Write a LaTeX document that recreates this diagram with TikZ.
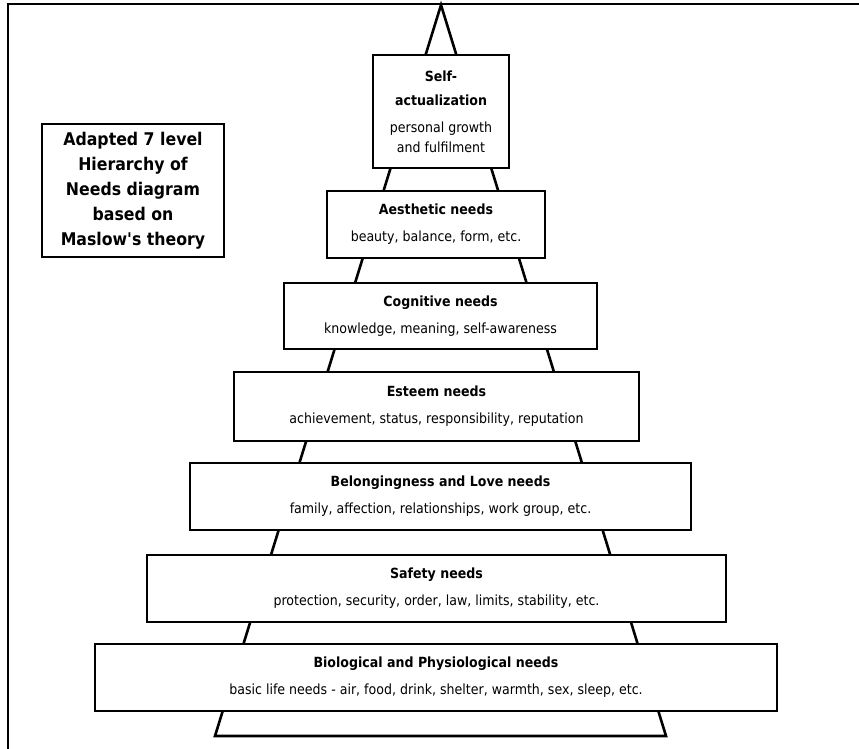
\documentclass[tikz,border=0pt]{standalone}
\usepackage{fontspec}
% a slightly condensed sans for all labels; no TeX quote mapping, so ' stays straight
\newfontfamily\labelfont{DejaVu Sans}[FakeStretch=0.9]
\begin{document}
\begin{tikzpicture}[x=1pt,y=-1pt,
  frameline/.style={draw=black, line width=2pt},
  pyramid/.style={draw=black, line width=2.6pt, line join=miter},
  levelbox/.style={draw=black, fill=white, line width=2.6pt, align=center,
    inner sep=0pt, font=\labelfont\fontsize{14}{20}\selectfont},
  titlebox/.style={draw=black, fill=white, line width=2.6pt, align=center,
    inner sep=0pt, font=\labelfont\fontsize{17.5}{25}\selectfont\bfseries}
]
\useasboundingbox (0,0) rectangle (859,749);

% page frame (top and left rules)
\coordinate (fbl) at (8,749);
\coordinate (ftl) at (8,4);
\coordinate (ftr) at (859,4);
\draw[frameline] (fbl) -- (ftl) -- (ftr);

% pyramid outline behind the levels
\coordinate (apex) at (441,5);
\coordinate (baseL) at (215,736);
\coordinate (baseR) at (666,736);
\draw[pyramid] (apex) -- (baseL) -- (baseR) -- cycle;

% the seven levels, top to bottom
\node[levelbox, minimum width=136pt, minimum height=113pt] (selfact) at (441,111.5)
  {\bfseries Self-\\[4pt]\bfseries actualization\\[7pt]personal growth\\and fulfilment};
\node[levelbox, minimum width=218pt, minimum height=67pt] (aesthetic) at (436,224.5)
  {\bfseries Aesthetic needs\\[7pt]beauty, balance, form, etc.};
\node[levelbox, minimum width=313pt, minimum height=66pt] (cognitive) at (440.5,316)
  {\bfseries Cognitive needs\\[7pt]knowledge, meaning, self-awareness};
\node[levelbox, minimum width=405pt, minimum height=69pt] (esteem) at (436.5,406.5)
  {\bfseries Esteem needs\\[7pt]achievement, status, responsibility, reputation};
\node[levelbox, minimum width=501pt, minimum height=67pt] (belonging) at (440.5,496.5)
  {\bfseries Belongingness and Love needs\\[7pt]family, affection, relationships, work group, etc.};
\node[levelbox, minimum width=579pt, minimum height=67pt] (safety) at (436.5,588.5)
  {\bfseries Safety needs\\[7pt]protection, security, order, law, limits, stability, etc.};
\node[levelbox, minimum width=682pt, minimum height=67pt] (bio) at (436,677.5)
  {\bfseries Biological and Physiological needs\\[7pt]basic life needs - air, food, drink, shelter, warmth, sex, sleep, etc.};

% caption box
\node[titlebox, minimum width=182pt, minimum height=133pt] (caption) at (133,190.5)
  {Adapted 7 level\\Hierarchy of\\Needs diagram\\based on\\Maslow's theory};
\end{tikzpicture}
\end{document}
